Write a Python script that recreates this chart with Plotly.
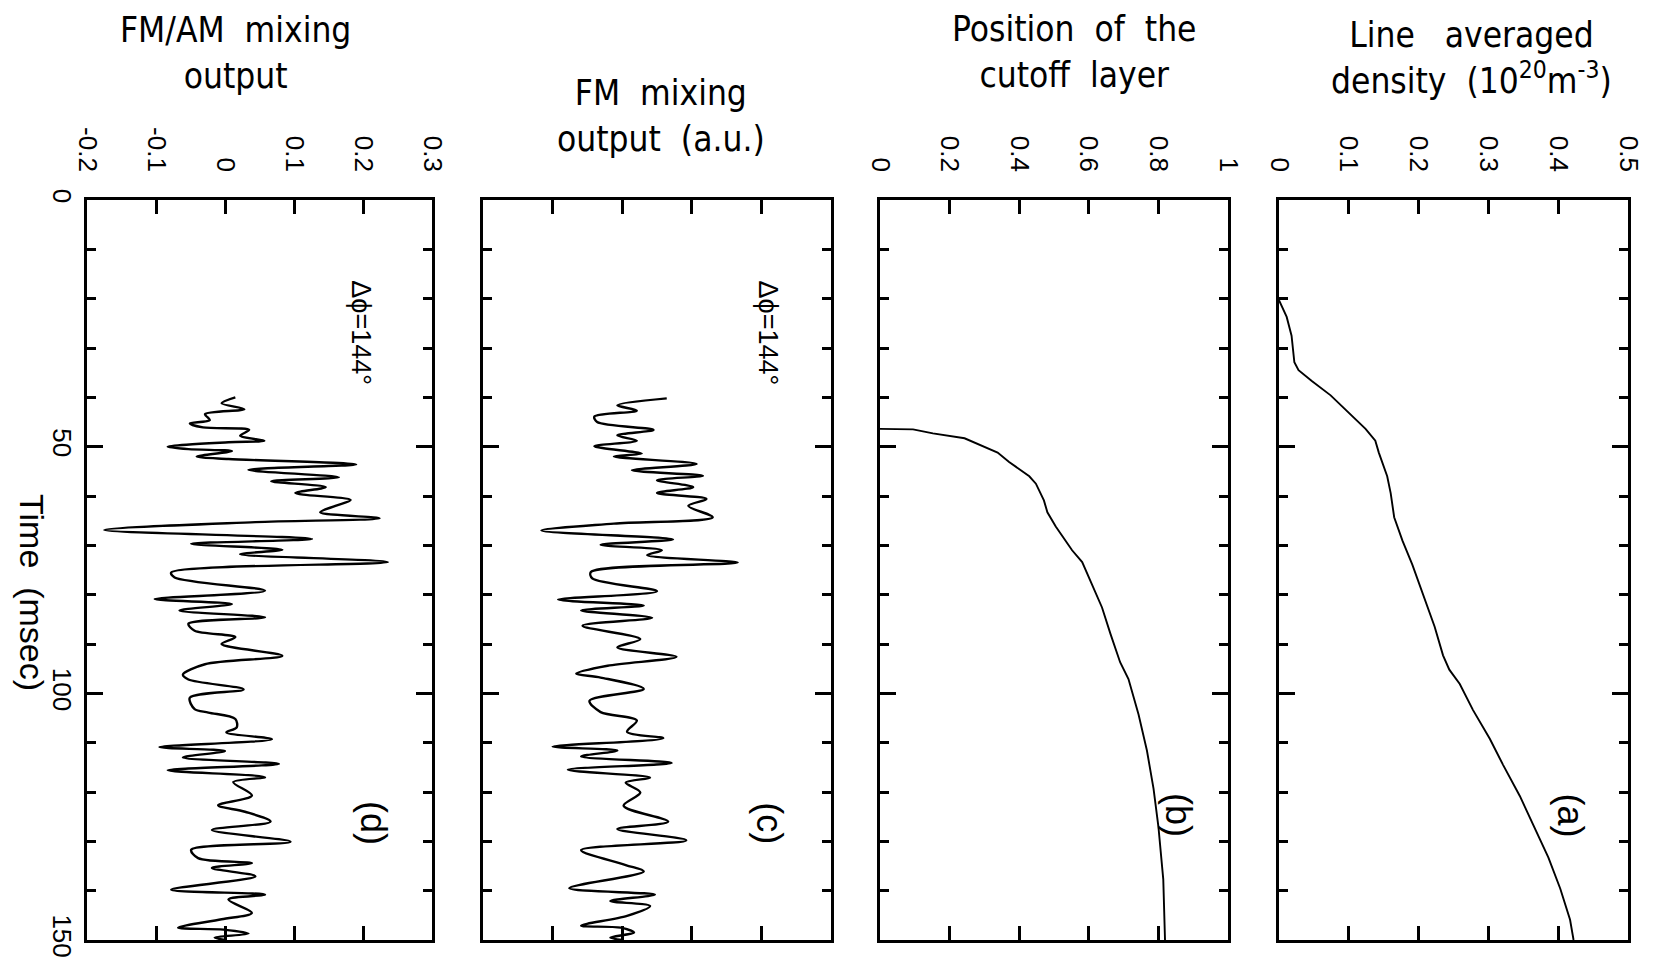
import plotly.graph_objects as go

# ---------------- data ----------------
# (a) line averaged density vs time
time_a = [20.3, 23.7, 27.5, 32.9, 34.5, 36.7, 39.6, 42.5, 46.4, 48.8, 51.2, 56.0, 59.4, 64.3, 69.1,
          73.9, 80.7, 86.5, 92.3, 95.2, 98.1, 103.4, 109.2, 114.5, 120.8, 128.0, 133.3, 139.6, 145.9, 150.0]
dens_a = [0.0, 0.011, 0.018, 0.022, 0.028, 0.047, 0.074, 0.095, 0.124, 0.138, 0.143, 0.155, 0.160, 0.165, 0.177,
          0.191, 0.208, 0.223, 0.235, 0.244, 0.259, 0.278, 0.302, 0.321, 0.345, 0.369, 0.386, 0.403, 0.417, 0.422]

# (b) position of the cutoff layer vs time
time_b = [46.4, 46.5, 47.3, 48.3, 51.2, 53.1, 56.0, 57.5, 60.9, 63.3, 66.2, 71.0, 73.4, 78.7, 82.6,
          87.9, 93.7, 97.1, 104.3, 111.6, 119.3, 127.0, 137.7, 150.0]
cut_b = [0.0, 0.095, 0.152, 0.243, 0.338, 0.371, 0.429, 0.448, 0.471, 0.481, 0.505, 0.552, 0.581, 0.614, 0.638,
         0.662, 0.690, 0.714, 0.743, 0.767, 0.786, 0.800, 0.814, 0.819]

# (c) FM mixing output vs time
time_c = [40.2, 41.6, 42.7, 43.9, 45.0, 46.6, 47.7, 48.8, 49.9, 51.4, 52.0, 53.5, 54.8, 55.9, 56.8, 58.2,
          59.4, 60.6, 62.0, 64.3, 65.6, 67.0, 68.8, 69.9, 71.0, 72.0, 73.5, 75.4, 76.7, 79.3, 81.0, 82.2,
          83.2, 84.7, 86.3, 89.0, 90.7, 92.6, 94.4, 96.0, 96.8, 99.1, 101.5, 103.8, 105.5, 107.8, 109.1,
          110.8, 111.6, 112.8, 114.1, 115.5, 117.1, 118.1, 120.1, 122.8, 126.0, 127.5, 129.8, 131.8, 134.8,
          136.1, 139.5, 140.8, 142.1, 143.1, 145.1, 147.1, 147.5, 148.5, 149.5, 150.0]
fm_c = [0.064, -0.007, 0.021, -0.040, -0.036, 0.045, -0.007, 0.021, -0.040, 0.028, -0.012, 0.107, 0.014,
        0.116, 0.050, 0.102, 0.050, 0.121, 0.095, 0.130, -0.012, -0.116, 0.073, -0.031, 0.057, 0.036, 0.166,
        -0.045, -0.043, 0.050, -0.092, 0.031, -0.059, 0.043, -0.057, 0.026, -0.007, 0.078, -0.021, -0.066,
        -0.031, 0.031, -0.047, -0.031, 0.021, 0.007, 0.059, -0.100, -0.007, -0.059, 0.071, -0.078, 0.040,
        0.005, 0.026, 0.002, 0.066, -0.007, 0.092, -0.059, 0.005, 0.031, -0.076, 0.047, -0.017, 0.040,
        0.007, -0.059, -0.002, 0.017, -0.017, 0.0]

# (d) FM/AM mixing output vs time
time_d = [40.0, 41.2, 42.4, 43.4, 44.6, 45.3, 46.1, 46.6, 47.8, 48.8, 49.1, 50.0, 50.5, 50.9, 52.0, 52.5,
          53.6, 54.7, 56.2, 57.0, 58.2, 59.4, 60.8, 62.0, 63.3, 64.5, 65.3, 66.9, 68.7, 69.7, 70.9, 71.8,
          73.4, 75.5, 76.5, 79.2, 80.9, 81.9, 83.2, 84.6, 85.9, 87.3, 88.6, 90.0, 92.4, 94.1, 96.2, 97.2,
          99.2, 100.9, 103.2, 103.9, 105.2, 106.9, 107.9, 109.3, 110.9, 111.7, 113.0, 114.3, 115.6, 117.0,
          118.0, 120.7, 122.7, 124.0, 126.0, 127.7, 130.1, 131.7, 133.4, 134.4, 135.4, 137.1, 139.8, 140.8,
          141.8, 144.5, 145.8, 147.5, 147.9, 148.7, 149.5, 150.0]
fmam_d = [0.015, -0.005, 0.028, -0.029, -0.022, -0.051, -0.032, 0.035, 0.022, 0.057, 0.005, -0.083, -0.053,
          0.010, -0.041, 0.005, 0.190, 0.034, 0.165, 0.067, 0.146, 0.102, 0.182, 0.160, 0.138, 0.224, 0.044,
          -0.175, 0.126, -0.049, 0.083, 0.022, 0.236, -0.078, -0.073, 0.058, -0.102, 0.010, -0.066, 0.058,
          -0.053, -0.044, 0.015, -0.005, 0.083, -0.029, -0.061, -0.053, 0.027, -0.051, -0.044, -0.024, 0.015,
          0.017, 0.002, 0.068, -0.095, 0.0, -0.061, 0.078, -0.083, 0.058, 0.012, 0.039, -0.010, 0.029, 0.066,
          -0.019, 0.095, -0.049, -0.039, 0.039, -0.019, 0.044, -0.078, 0.058, 0.005, 0.039, -0.005, -0.068,
          -0.002, 0.034, -0.015, 0.0]

time_ticks = [0, 50, 100, 150]
out_ticks = [-0.2, -0.1, 0, 0.1, 0.2, 0.3]
out_labels = ["-0.2", "-0.1", "0", "0.1", "0.2", "0.3"]
NB = "\u00a0"
panel_titles = ["FM/AM" + NB * 2 + "mixing<br>output",
                "FM" + NB * 2 + "mixing<br>output" + NB * 2 + "(a.u.)",
                "Position" + NB * 2 + "of" + NB * 2 + "the<br>cutoff" + NB * 2 + "layer",
                "Line" + NB * 3 + "averaged<br>density" + NB * 2 + "(10<sup>20</sup>m<sup>-3</sup>)"]
panel_tags = ["(d)", "(c)", "(b)", "(a)"]
phase_label = "\u0394\u03d5=144\u00b0"

# ---------------- figure ----------------
W, H = 1659, 970
FONT = "Liberation Sans, Arial, sans-serif"
TFONT = "Liberation Sans Narrow, DejaVu Sans Condensed, Roboto, Liberation Sans, sans-serif"

x_doms = [(87, 432), (483, 831), (880, 1228), (1279, 1628)]
y_dom = [1 - 940 / H, 1 - 200 / H]
x_ranges = [[-0.2, 0.3], [-0.2, 0.3], [0, 1], [0, 0.5]]
x_dticks = [0.1, 0.1, 0.2, 0.1]

series = [(fmam_d, time_d, 2.4), (fm_c, time_c, 2.4), (cut_b, time_b, 1.9), (dens_a, time_a, 1.9)]

fig = go.Figure()
layout = dict(width=W, height=H, margin=dict(l=0, r=0, t=0, b=0, autoexpand=False),
              template="none",
              paper_bgcolor="white", plot_bgcolor="white", showlegend=False,
              font=dict(family=FONT, color="black"))

annotations = []
for i in range(4):
    n = "" if i == 0 else str(i + 1)
    xs, ys, lw = series[i]
    fig.add_trace(go.Scatter(x=xs, y=ys, mode="lines", xaxis="x" + n, yaxis="y" + n,
                             line=dict(color="black", width=lw,
                                       shape="spline" if i < 2 else "linear", smoothing=0.9)))
    x0, x1 = x_doms[i]
    xa = dict(
        domain=[x0 / W, x1 / W], anchor="y" + n, side="top", range=x_ranges[i],
        ticks="inside", ticklen=14, tickwidth=2.5, tickcolor="black", mirror="ticks",
        showline=True, linewidth=3, linecolor="black", showgrid=False, zeroline=False,
        tickangle=90, tickfont=dict(size=26, family=FONT), ticklabelstandoff=16,
        showticklabels=(i != 1), automargin=False, fixedrange=True)
    if i < 2:
        xa.update(tickvals=out_ticks, ticktext=out_labels)
    else:
        xa.update(dtick=x_dticks[i], tick0=0)
    layout["xaxis" + n] = xa
    layout["yaxis" + n] = dict(
        domain=y_dom, anchor="x" + n, range=[150, 0], tickvals=time_ticks,
        ticks="inside", ticklen=16, tickwidth=2.5, tickcolor="black", mirror="ticks",
        minor=dict(dtick=10, tick0=0, ticks="inside", ticklen=9, tickwidth=2.5, tickcolor="black",
                   showgrid=False),
        showline=True, linewidth=3, linecolor="black", showgrid=False, zeroline=False,
        tickangle=90, tickfont=dict(size=26, family=FONT), ticklabelstandoff=0,
        showticklabels=(i == 0), automargin=False, fixedrange=True)

# panel titles
title_pos = [(235, 53), (661, 116), (1074, 52), (1471, 58)]
for i, (cx, cy) in enumerate(title_pos):
    annotations.append(dict(text=panel_titles[i], x=cx / W, y=1 - cy / H, xref="paper", yref="paper",
                            showarrow=False, font=dict(size=35, family=TFONT), align="center",
                            xanchor="center", yanchor="middle"))

# panel tags (a)-(d)
tag_pos = [(0.216, 126.3), (0.212, 126.3), (0.86, 124.7), (0.418, 124.7)]
for i, (vx, ty) in enumerate(tag_pos):
    n = "" if i == 0 else str(i + 1)
    annotations.append(dict(text=panel_tags[i], x=vx, y=ty, xref="x" + n, yref="y" + n,
                            xanchor="center", yanchor="middle",
                            showarrow=False, textangle=90, font=dict(size=36, family=FONT)))

# phase labels
for i, vx in enumerate([0.197, 0.209]):
    n = "" if i == 0 else str(i + 1)
    annotations.append(dict(text=phase_label, x=vx, y=27, xref="x" + n, yref="y" + n,
                            xanchor="center", yanchor="middle",
                            showarrow=False, textangle=90, font=dict(size=27, family=FONT)))

# time axis title
annotations.append(dict(text="Time" + NB * 2 + "(msec)", x=32 / W, y=1 - 592 / H, xref="paper", yref="paper",
                        xanchor="center", yanchor="middle",
                        showarrow=False, textangle=90, font=dict(size=34, family=FONT)))

layout["annotations"] = annotations
fig.update_layout(**layout)
fig.write_html("out.html")
